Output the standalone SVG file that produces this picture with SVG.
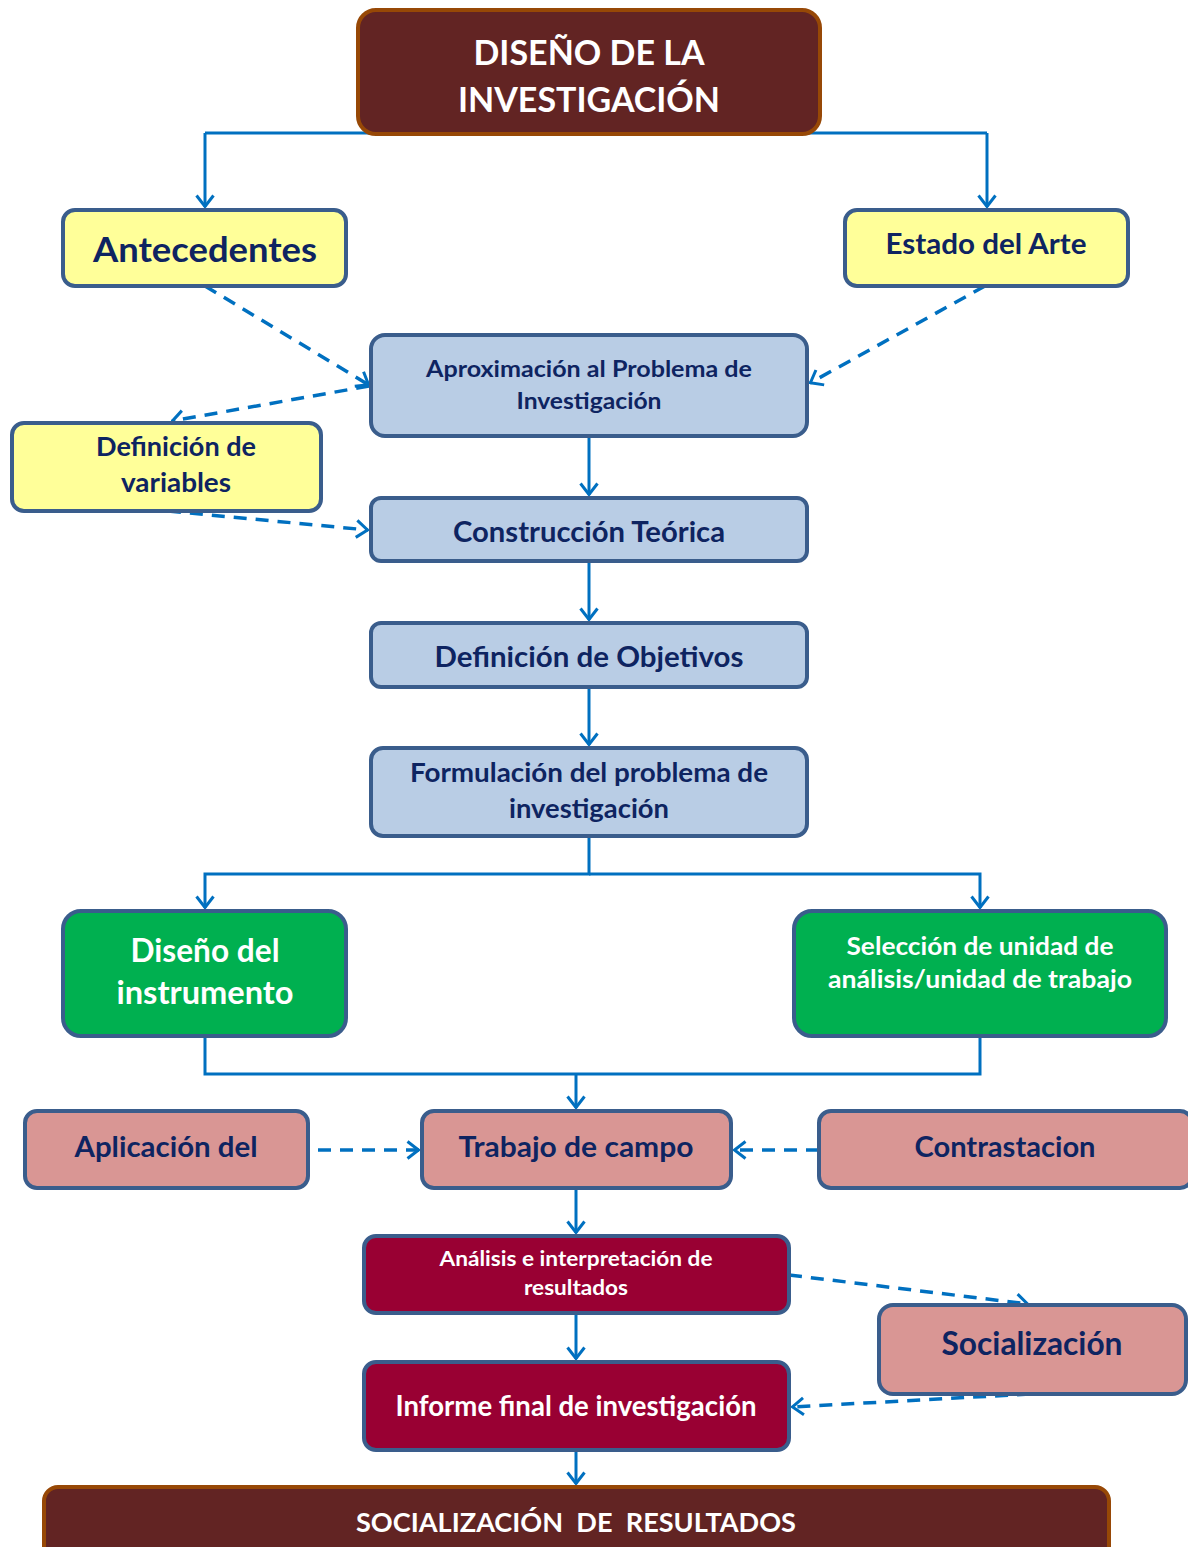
<svg xmlns="http://www.w3.org/2000/svg" width="1188" height="1547" viewBox="0 0 1188 1547">
<defs>
<style>
.t{font-family:Lato,"Open Sans","Liberation Sans",sans-serif;font-weight:bold;text-anchor:middle}
.dk{fill:#0E2461}
.wt{fill:#ffffff}
.title{fill:#622423;stroke:#974806;stroke-width:4}
.yel{fill:#FFFF99;stroke:#3A5D8C;stroke-width:4}
.blu{fill:#B9CDE5;stroke:#3A5D8C;stroke-width:4}
.grn{fill:#00B050;stroke:#3A5D8C;stroke-width:4}
.pnk{fill:#D99694;stroke:#3A5D8C;stroke-width:4}
.red{fill:#990033;stroke:#3A5D8C;stroke-width:4}
.c{fill:none;stroke:#0070C0;stroke-width:3}
.d{fill:none;stroke:#0070C0;stroke-width:3.5;stroke-dasharray:13 9}
</style>
<marker id="ah" viewBox="0 0 14 20" refX="13" refY="10" markerWidth="14" markerHeight="20" markerUnits="userSpaceOnUse" orient="auto">
<path d="M1.5,1.5 L12.5,10 L1.5,18.5" fill="none" stroke="#0070C0" stroke-width="3"/>
</marker>
</defs>
<g id="connectors">
<path class="c" d="M205,133 H987"/>
<path class="c" d="M205,133 V207" marker-end="url(#ah)"/>
<path class="c" d="M987,133 V207" marker-end="url(#ah)"/>
<path class="d" d="M205,286 L369,385" marker-end="url(#ah)"/>
<path class="d" d="M985,286 L810,383" marker-end="url(#ah)"/>
<path class="d" d="M369,386 L172,421" marker-end="url(#ah)"/>
<path class="d" d="M168,511 L368,530" marker-end="url(#ah)"/>
<path class="c" d="M589,436 V495" marker-end="url(#ah)"/>
<path class="c" d="M589,561 V620" marker-end="url(#ah)"/>
<path class="c" d="M589,687 V745" marker-end="url(#ah)"/>
<path class="c" d="M589,836 V874 H205 V908" marker-end="url(#ah)"/>
<path class="c" d="M589,874 H980 V908" marker-end="url(#ah)"/>
<path class="c" d="M205,1036 V1074 H980 V1036"/>
<path class="c" d="M576,1074 V1108" marker-end="url(#ah)"/>
<path class="d" d="M318,1150 H419" marker-end="url(#ah)"/>
<path class="d" d="M819,1150 H734" marker-end="url(#ah)"/>
<path class="c" d="M576,1188 V1233" marker-end="url(#ah)"/>
<path class="d" d="M789,1275 L1028,1304" marker-end="url(#ah)"/>
<path class="c" d="M576,1313 V1359" marker-end="url(#ah)"/>
<path class="d" d="M1030,1394 L792,1407" marker-end="url(#ah)"/>
<path class="c" d="M576,1450 V1484" marker-end="url(#ah)"/>
</g>
<g id="n-diseno">
<rect class="title" x="358" y="10" width="462" height="124" rx="18"/>
<text class="t wt" x="589" y="65" font-size="34" textLength="231" lengthAdjust="spacingAndGlyphs">DISEÑO DE LA</text>
<text class="t wt" x="589" y="112" font-size="34" textLength="262" lengthAdjust="spacingAndGlyphs">INVESTIGACIÓN</text>
</g>
<g id="n-antecedentes">
<rect class="yel" x="63" y="210" width="283" height="76" rx="12"/>
<text class="t dk" x="205" y="262" font-size="35" textLength="224" lengthAdjust="spacingAndGlyphs">Antecedentes</text>
</g>
<g id="n-estado">
<rect class="yel" x="845" y="210" width="283" height="76" rx="12"/>
<text class="t dk" x="986" y="254" font-size="28" textLength="201" lengthAdjust="spacingAndGlyphs">Estado del Arte</text>
</g>
<g id="n-aproximacion">
<rect class="blu" x="371" y="335" width="436" height="101" rx="14"/>
<text class="t dk" x="589" y="377" font-size="23" textLength="326" lengthAdjust="spacingAndGlyphs">Aproximación al Problema de</text>
<text class="t dk" x="589" y="409" font-size="23" textLength="145" lengthAdjust="spacingAndGlyphs">Investigación</text>
</g>
<g id="n-variables">
<rect class="yel" x="12" y="423" width="309" height="88" rx="12"/>
<text class="t dk" x="176" y="456" font-size="26" textLength="160" lengthAdjust="spacingAndGlyphs">Definición de</text>
<text class="t dk" x="176" y="492" font-size="26" textLength="110" lengthAdjust="spacingAndGlyphs">variables</text>
</g>
<g id="n-construccion">
<rect class="blu" x="371" y="498" width="436" height="63" rx="10"/>
<text class="t dk" x="589" y="542" font-size="28" textLength="272" lengthAdjust="spacingAndGlyphs">Construcción Teórica</text>
</g>
<g id="n-objetivos">
<rect class="blu" x="371" y="623" width="436" height="64" rx="10"/>
<text class="t dk" x="589" y="667" font-size="28" textLength="309" lengthAdjust="spacingAndGlyphs">Definición de Objetivos</text>
</g>
<g id="n-formulacion">
<rect class="blu" x="371" y="748" width="436" height="88" rx="12"/>
<text class="t dk" x="589" y="782" font-size="26" textLength="358" lengthAdjust="spacingAndGlyphs">Formulación del problema de</text>
<text class="t dk" x="589" y="818" font-size="26" textLength="160" lengthAdjust="spacingAndGlyphs">investigación</text>
</g>
<g id="n-instrumento">
<rect class="grn" x="63" y="911" width="283" height="125" rx="18"/>
<text class="t wt" x="205" y="962" font-size="32" textLength="149" lengthAdjust="spacingAndGlyphs">Diseño del</text>
<text class="t wt" x="205" y="1004" font-size="32" textLength="177" lengthAdjust="spacingAndGlyphs">instrumento</text>
</g>
<g id="n-seleccion">
<rect class="grn" x="794" y="911" width="372" height="125" rx="18"/>
<text class="t wt" x="980" y="955" font-size="25" textLength="267" lengthAdjust="spacingAndGlyphs">Selección de unidad de</text>
<text class="t wt" x="980" y="988" font-size="25" textLength="304" lengthAdjust="spacingAndGlyphs">análisis/unidad de trabajo</text>
</g>
<g id="n-aplicacion">
<rect class="pnk" x="25" y="1111" width="283" height="77" rx="12"/>
<text class="t dk" x="166" y="1157" font-size="29" textLength="183" lengthAdjust="spacingAndGlyphs">Aplicación del</text>
</g>
<g id="n-trabajo">
<rect class="pnk" x="422" y="1111" width="309" height="77" rx="12"/>
<text class="t dk" x="576" y="1157" font-size="29" textLength="235" lengthAdjust="spacingAndGlyphs">Trabajo de campo</text>
</g>
<g id="n-contrastacion">
<rect class="pnk" x="819" y="1111" width="373" height="77" rx="12"/>
<text class="t dk" x="1005" y="1157" font-size="29" textLength="181" lengthAdjust="spacingAndGlyphs">Contrastacion</text>
</g>
<g id="n-analisis">
<rect class="red" x="364" y="1236" width="425" height="77" rx="12"/>
<text class="t wt" x="576" y="1266" font-size="21" textLength="273" lengthAdjust="spacingAndGlyphs">Análisis e interpretación de</text>
<text class="t wt" x="576" y="1295" font-size="21" textLength="104" lengthAdjust="spacingAndGlyphs">resultados</text>
</g>
<g id="n-socializacion">
<rect class="pnk" x="879" y="1305" width="307" height="89" rx="14"/>
<text class="t dk" x="1032" y="1355" font-size="32" textLength="181" lengthAdjust="spacingAndGlyphs">Socialización</text>
</g>
<g id="n-informe">
<rect class="red" x="364" y="1362" width="425" height="88" rx="12"/>
<text class="t wt" x="576" y="1416" font-size="28" textLength="361" lengthAdjust="spacingAndGlyphs">Informe final de investigación</text>
</g>
<g id="n-resultados">
<rect class="title" x="44" y="1487" width="1065" height="80" rx="14"/>
<text class="t wt" x="576" y="1532" font-size="27" xml:space="preserve" textLength="440" lengthAdjust="spacingAndGlyphs">SOCIALIZACIÓN  DE  RESULTADOS</text>
</g>
</svg>
